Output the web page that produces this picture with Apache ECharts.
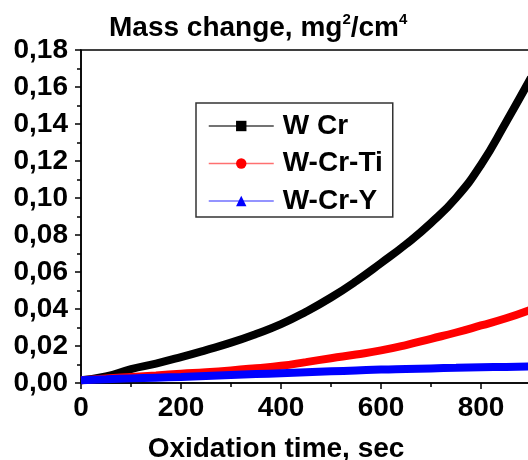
<!DOCTYPE html>
<html>
<head>
<meta charset="utf-8">
<script src="https://cdn.jsdelivr.net/npm/echarts@6/dist/echarts.min.js"></script>
<style>
  html, body { margin: 0; padding: 0; background: #fff; }
  #chart { width: 528px; height: 460px; }
</style>
</head>
<body>
<div id="chart"></div>
<script>
// oxidation time, sec
var times = [0, 50, 100, 150, 200, 250, 300, 350, 400, 450, 500, 550, 600, 650, 700, 750, 800, 850, 900]
// mass change, mg^2/cm^4
var wCr = [0.0015, 0.0035, 0.0075, 0.0105, 0.0140, 0.0178, 0.0218, 0.0265, 0.0318, 0.0385, 0.0462, 0.0550, 0.0648, 0.0750, 0.0865, 0.1000, 0.1180, 0.1410, 0.1650]
var wCrTi = [0.0015, 0.0025, 0.0033, 0.0041, 0.0050, 0.0058, 0.0068, 0.0080, 0.0093, 0.0113, 0.0134, 0.0154, 0.0176, 0.0205, 0.0239, 0.0273, 0.0311, 0.0350, 0.0397]
var wCrY = [0.0015, 0.0020, 0.0025, 0.0029, 0.0033, 0.0038, 0.0043, 0.0048, 0.0053, 0.0058, 0.0063, 0.0068, 0.0073, 0.0076, 0.0079, 0.0082, 0.0085, 0.0087, 0.0089]
var names = ['W Cr', 'W-Cr-Ti', 'W-Cr-Y']

var font = "'Liberation Sans', Arial, sans-serif"

function pairs(ys) {
    return times.map(function (t, i) { return [t, ys[i]] })
}

var chart = echarts.init(document.getElementById('chart'))
var option = {
    animation: false,
    backgroundColor: '#fff',
    title: {
        text: 'Mass change, mg{sup|2}/cm{sup|4}',
        left: 104,
        top: 7,
        textStyle: {
            fontFamily: font,
            fontSize: 28,
            fontWeight: 'bold',
            color: '#000',
            lineHeight: 32,
            rich: {
                sup: { fontFamily: font, fontSize: 15, fontWeight: 'bold', color: '#000', verticalAlign: 'top', lineHeight: 32 }
            }
        }
    },
    legend: {
        orient: 'vertical',
        left: 196,
        top: 103,
        padding: [9, 10, 2, 12],
        itemWidth: 65,
        itemHeight: 13,
        itemGap: 9.5,
        borderColor: '#333',
        borderWidth: 1.5,
        textStyle: { fontFamily: font, fontSize: 28, fontWeight: 'bold', color: '#000', lineHeight: 24, padding: [0, 0, 0, 4] },
        data: [
            { name: names[0], lineStyle: { color: '#444', width: 1.5 } },
            { name: names[1], lineStyle: { color: '#ff7070', width: 1.5 } },
            { name: names[2], lineStyle: { color: '#7070ff', width: 1.5 } }
        ]
    },
    grid: {
        left: 81,
        top: 50,
        right: -3,
        bottom: 77,
        outerBoundsMode: 'none',
        containLabel: false,
        show: true,
        borderColor: '#000',
        borderWidth: 1.5,
        backgroundColor: 'transparent'
    },
    xAxis: {
        type: 'value',
        min: 0,
        max: 900,
        interval: 200,
        name: 'Oxidation time, sec',
        nameLocation: 'middle',
        nameGap: 52,
        nameTextStyle: { fontFamily: font, fontSize: 28, fontWeight: 'bold', color: '#000', padding: [0, 60, 0, 0] },
        axisLine: { lineStyle: { color: '#000', width: 1.5 } },
        axisTick: { inside: false, length: 6, lineStyle: { color: '#000', width: 1.5 } },
        minorTick: { show: true, splitNumber: 2, length: 4, lineStyle: { color: '#000', width: 1.5 } },
        axisLabel: { fontFamily: font, fontSize: 28, fontWeight: 'bold', color: '#000', margin: 11, showMaxLabel: false },
        splitLine: { show: false }
    },
    yAxis: {
        type: 'value',
        min: 0,
        max: 0.18,
        interval: 0.02,
        axisLine: { show: true, lineStyle: { color: '#000', width: 1.5 } },
        axisTick: { show: true, inside: false, length: 6, lineStyle: { color: '#000', width: 1.5 } },
        minorTick: { show: true, splitNumber: 2, length: 4, lineStyle: { color: '#000', width: 1.5 } },
        axisLabel: {
            fontFamily: font, fontSize: 28, fontWeight: 'bold', color: '#000', margin: 13,
            formatter: function (v) { return v.toFixed(2).replace('.', ',') }
        },
        splitLine: { show: false }
    },
    series: [
        {
            name: names[0], type: 'line', smooth: true, showSymbol: false, symbol: 'rect',
            itemStyle: { color: '#000' }, lineStyle: { color: '#000', width: 8 },
            data: pairs(wCr)
        },
        {
            name: names[1], type: 'line', smooth: true, showSymbol: false, symbol: 'circle',
            itemStyle: { color: '#ff0000' }, lineStyle: { color: '#ff0000', width: 8 },
            data: pairs(wCrTi)
        },
        {
            name: names[2], type: 'line', smooth: true, showSymbol: false, symbol: 'triangle',
            itemStyle: { color: '#0000ff' }, lineStyle: { color: '#0000ff', width: 8 },
            data: pairs(wCrY)
        }
    ]
}
chart.setOption(option)
</script>
</body>
</html>
